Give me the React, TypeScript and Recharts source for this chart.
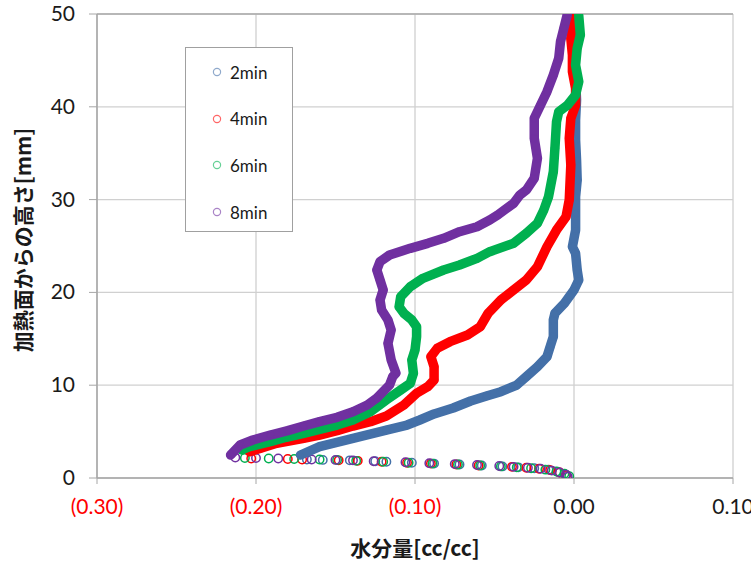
import { ScatterChart, Scatter, XAxis, YAxis, CartesianGrid, ReferenceLine } from "recharts";

// [water content, height mm] along each profile, bottom to top
const blueCurve = [
  [-0.172, 2.48], [-0.160, 3.37], [-0.139, 4.28], [-0.118, 5.17], [-0.105, 5.71], [-0.097, 6.25],
  [-0.088, 6.9], [-0.076, 7.54], [-0.065, 8.3], [-0.055, 8.84], [-0.046, 9.3], [-0.036, 10.02],
  [-0.030, 10.92], [-0.023, 11.99], [-0.017, 13.07], [-0.015, 14.15], [-0.013, 15.23], [-0.013, 17.03],
  [-0.012, 17.75], [-0.006, 18.83], [0.0, 20.26], [0.003, 21.34], [0.002, 22.41], [0.001, 24.21],
  [-0.001, 24.92], [0.001, 26.72], [0.001, 28.52], [0.001, 30.31], [0.002, 32.11], [0.0016, 34.27],
  [0.001, 36.42], [0.001, 38.58], [0.0016, 40.73], [0.001, 42.89], [0.0003, 45.04], [-0.0003, 47.2],
  [-0.0003, 49.35],
];
const redCurve = [
  [-0.204, 2.83], [-0.197, 3.2], [-0.187, 3.74], [-0.170, 4.28], [-0.160, 4.63], [-0.149, 5.1],
  [-0.139, 5.6], [-0.128, 6.07], [-0.118, 6.68], [-0.107, 7.87], [-0.099, 9.13], [-0.092, 9.84],
  [-0.088, 10.56], [-0.088, 11.99], [-0.090, 13.07], [-0.086, 13.98], [-0.078, 14.69], [-0.067, 15.41],
  [-0.059, 16.3], [-0.054, 17.75], [-0.046, 19.18], [-0.038, 20.26], [-0.030, 21.34], [-0.023, 22.77],
  [-0.017, 24.92], [-0.011, 26.72], [-0.005, 28.16], [-0.003, 29.96], [-0.002, 33.73], [-0.003, 36.61],
  [-0.002, 38.76], [0.001, 40.19], [0.001, 41.99], [-0.001, 43.78], [-0.001, 45.58], [-0.002, 47.38],
  [-0.001, 49.8],
];
const greenCurve = [
  [-0.209, 3.02], [-0.204, 3.37], [-0.191, 3.91], [-0.181, 4.39], [-0.170, 4.82], [-0.160, 5.25],
  [-0.149, 5.71], [-0.139, 6.25], [-0.128, 7.14], [-0.118, 8.41], [-0.109, 9.48], [-0.103, 10.2],
  [-0.101, 11.28], [-0.102, 12.72], [-0.100, 13.79], [-0.099, 15.23], [-0.099, 16.3], [-0.102, 17.03],
  [-0.107, 17.75], [-0.110, 18.46], [-0.109, 19.54], [-0.103, 20.61], [-0.095, 21.52], [-0.082, 22.41],
  [-0.072, 22.95], [-0.061, 23.67], [-0.053, 24.39], [-0.038, 25.29], [-0.030, 26.37], [-0.023, 27.45],
  [-0.019, 28.88], [-0.016, 30.31], [-0.013, 33.0], [-0.012, 35.53], [-0.011, 38.39], [-0.0096, 39.47],
  [-0.004, 40.19], [0.001, 41.27], [0.003, 42.7], [0.001, 44.5], [0.002, 46.3], [0.004, 47.74],
  [0.003, 49.8],
];
const purpleCurve = [
  [-0.216, 2.48], [-0.210, 3.56], [-0.202, 4.09], [-0.191, 4.63], [-0.180, 5.1], [-0.170, 5.6],
  [-0.160, 6.07], [-0.149, 6.54], [-0.139, 7.14], [-0.130, 7.87], [-0.124, 8.62], [-0.116, 10.02],
  [-0.114, 10.92], [-0.112, 11.31], [-0.115, 12.72], [-0.117, 14.51], [-0.115, 15.95], [-0.117, 17.03],
  [-0.121, 18.1], [-0.122, 19.18], [-0.120, 20.26], [-0.122, 21.34], [-0.124, 22.41], [-0.122, 23.31],
  [-0.116, 24.03], [-0.103, 24.75], [-0.092, 25.29], [-0.082, 25.83], [-0.072, 26.54], [-0.061, 27.08],
  [-0.053, 27.8], [-0.048, 28.34], [-0.038, 29.6], [-0.034, 30.5], [-0.030, 31.03], [-0.025, 32.3],
  [-0.023, 34.45], [-0.025, 36.61], [-0.025, 38.76], [-0.021, 40.19], [-0.017, 41.63], [-0.013, 43.43],
  [-0.0096, 45.23], [-0.0085, 47.02], [-0.0064, 48.46], [-0.0043, 49.89],
];

// sparse readings just above the heating surface
const blueFoot = [
  [-0.168, 2.0], [-0.158, 1.95], [-0.141, 1.9], [-0.125, 1.8], [-0.118, 1.75], [-0.102, 1.65],
  [-0.088, 1.55], [-0.072, 1.45], [-0.058, 1.35], [-0.045, 1.25], [-0.035, 1.15], [-0.025, 1.05],
  [-0.016, 0.9], [-0.010, 0.65], [-0.005, 0.35],
];
const redFoot = [
  [-0.203, 2.1], [-0.180, 2.05], [-0.171, 2.0], [-0.148, 1.9], [-0.136, 1.85], [-0.121, 1.75],
  [-0.105, 1.65], [-0.090, 1.55], [-0.074, 1.45], [-0.060, 1.35], [-0.039, 1.2], [-0.030, 1.1],
  [-0.022, 1.0], [-0.015, 0.85], [-0.009, 0.6], [-0.005, 0.3],
];
const greenFoot = [
  [-0.207, 2.15], [-0.192, 2.1], [-0.176, 2.05], [-0.160, 2.0], [-0.149, 1.95], [-0.137, 1.85],
  [-0.120, 1.75], [-0.104, 1.65], [-0.089, 1.55], [-0.073, 1.45], [-0.059, 1.35], [-0.046, 1.25],
  [-0.036, 1.15], [-0.027, 1.05], [-0.018, 0.9], [-0.011, 0.7], [-0.006, 0.45], [-0.003, 0.2],
];
const purpleFoot = [
  [-0.213, 2.2], [-0.200, 2.15], [-0.186, 2.1], [-0.165, 2.0], [-0.150, 1.95], [-0.139, 1.9],
  [-0.126, 1.8], [-0.106, 1.7], [-0.091, 1.6], [-0.075, 1.5], [-0.061, 1.4], [-0.047, 1.3],
  [-0.038, 1.2], [-0.029, 1.1], [-0.021, 1.0], [-0.014, 0.8], [-0.009, 0.6], [-0.005, 0.35],
  [-0.004, 0.15],
];

const seriesNames = ["2min", "4min", "6min", "8min"];
const seriesColors = ["#4470a8", "#ff0000", "#00b050", "#7030a0"];
const curves = [blueCurve, redCurve, greenCurve, purpleCurve];
const feet = [blueFoot, redFoot, greenFoot, purpleFoot];

const xTicks = [-0.3, -0.2, -0.1, 0, 0.1];
const yTicks = [0, 10, 20, 30, 40, 50];

const toPoints = (arr: number[][]) => arr.map(([x, y]) => ({ x, y }));

const tickFont = "Lato, 'Open Sans', sans-serif";
const cjkFont = "'Noto Sans CJK JP', 'Noto Sans', sans-serif";

// negatives in red with accounting parentheses
function XTick({ x, y, payload }: any) {
  const v = payload.value as number;
  const s = Math.abs(v).toFixed(2);
  return (
    <text x={x} y={y} dy={16} textAnchor="middle" fontSize={21} fontFamily={tickFont} fill={v < 0 ? "#ff0000" : "#1a1a1a"}>
      {v < 0 ? `(${s})` : s}
    </text>
  );
}

function YTick({ x, y, payload }: any) {
  return (
    <text x={x} y={y} dy={7} textAnchor="end" fontSize={21} fontFamily={tickFont} fill="#1a1a1a">
      {payload.value}
    </text>
  );
}

const ring = (color: string, r: number, w: number) => (p: any) =>
  <circle cx={p.cx} cy={p.cy} r={r} fill="none" stroke={color} strokeWidth={w} />;

export default function App() {
  return (
    <div style={{ position: "relative", width: 751, height: 562, background: "#fff" }}>
      <style>{"body{margin:0}"}</style>
      <ScatterChart width={751} height={562} margin={{ top: 14, right: 18, left: 37, bottom: 44 }}>
        <CartesianGrid stroke="#d0d0d0" strokeWidth={1.3} />
        <XAxis
          type="number" dataKey="x" domain={[-0.3, 0.1]} ticks={xTicks} allowDataOverflow
          height={40} tickSize={6} tickMargin={14} tick={<XTick />}
          axisLine={{ stroke: "#a6a6a6", strokeWidth: 1.5 }} tickLine={{ stroke: "#a6a6a6" }}
        />
        <YAxis
          type="number" dataKey="y" domain={[0, 50]} ticks={yTicks} allowDataOverflow
          width={60} tickSize={8} tickMargin={14} tick={<YTick />}
          axisLine={{ stroke: "#a6a6a6", strokeWidth: 1.5 }} tickLine={{ stroke: "#a6a6a6" }}
        />
        <ReferenceLine y={50} stroke="#ababab" strokeWidth={1.5} />
        {seriesNames.map((n, i) => (
          <Scatter
            key={n + "-foot"} name={n + " foot"} data={toPoints(feet[i])} fill={seriesColors[i]}
            shape={ring(seriesColors[i], 4.2, 1.5)} isAnimationActive={false}
          />
        ))}
        {seriesNames.map((n, i) => (
          <Scatter
            key={n} name={n} data={toPoints(curves[i])} fill={seriesColors[i]}
            line={{ stroke: seriesColors[i], strokeWidth: 9.5, strokeLinejoin: "round", strokeLinecap: "round" }}
            shape={ring(seriesColors[i], 3.6, 1.4)} isAnimationActive={false}
          />
        ))}
      </ScatterChart>

      {/* legend box */}
      <div style={{
        position: "absolute", left: 185, top: 47, width: 108, height: 185, boxSizing: "border-box",
        border: "1px solid #a0a0a0", background: "#fff", fontFamily: tickFont, fontSize: 17, color: "#1a1a1a",
      }}>
        {seriesNames.map((n, i) => (
          <div key={n} style={{ position: "absolute", left: 25, top: 13 + i * 46.7, display: "flex", alignItems: "center", height: 22 }}>
            <svg width={12} height={12} style={{ marginRight: 7 }}>
              <circle cx={6} cy={6} r={3.6} fill="none" stroke={seriesColors[i]} strokeOpacity={0.6} strokeWidth={1.2} />
            </svg>
            {n}
          </div>
        ))}
      </div>

      <div style={{
        position: "absolute", left: 0, width: 751, top: 532, paddingLeft: 97, paddingRight: 18, boxSizing: "border-box",
        textAlign: "center", fontFamily: cjkFont, fontWeight: 700, fontSize: 21, color: "#1a1a1a",
      }}>
        水分量[cc/cc]
      </div>
      <div style={{
        position: "absolute", left: 22, top: 240, transform: "translate(-50%, -50%) rotate(-90deg)", whiteSpace: "nowrap",
        fontFamily: cjkFont, fontWeight: 700, fontSize: 21, color: "#1a1a1a",
      }}>
        加熱面からの高さ[mm]
      </div>
    </div>
  );
}
